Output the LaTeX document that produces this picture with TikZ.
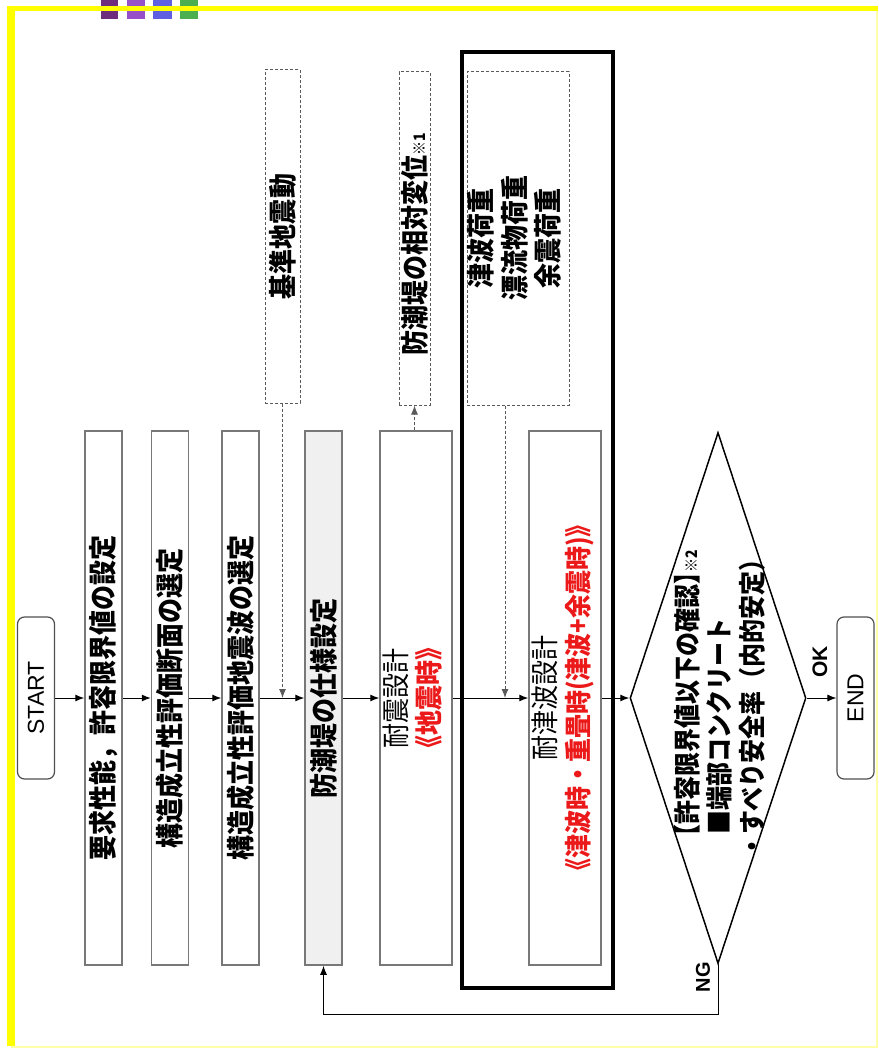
\documentclass[tikz,border=0pt]{standalone}
\usepackage{fontspec}
\usepackage{graphicx}
\setmainfont{Noto Sans CJK JP}
\newfontfamily\lat{Liberation Sans}
\usetikzlibrary{arrows.meta,shapes.geometric}
\definecolor{bordergray}{RGB}{120,120,120}
\definecolor{dashgray}{RGB}{90,90,90}
\definecolor{termgray}{RGB}{80,80,80}
\definecolor{fillgray}{RGB}{240,240,240}
\definecolor{redtxt}{RGB}{235,25,25}
\definecolor{frameyellow}{RGB}{255,255,0}
\definecolor{paleyellow}{RGB}{255,255,170}
\definecolor{sqA}{RGB}{110,45,125}
\definecolor{sqB}{RGB}{150,80,200}
\definecolor{sqC}{RGB}{95,95,225}
\definecolor{sqD}{RGB}{75,175,80}
% rotated CJK text, slightly stretched across the line as in the reference
\newcommand{\rottext}[1]{\rotatebox{90}{\scalebox{1}[1.13]{#1}}}
\newcommand{\rotplain}[1]{\rotatebox{90}{#1}}
\newcommand{\smallnote}[1]{{\fontsize{14}{14}\selectfont #1}}
\tikzset{
  procbox/.style={draw=bordergray, line width=1.5pt, minimum width=37pt, minimum height=534pt, inner sep=0pt, font={\fontsize{25}{27.4}\selectfont\bfseries}},
  dbox/.style={draw=dashgray, line width=1pt, dash pattern=on 3pt off 2pt, minimum height=333pt, inner sep=0pt, font={\fontsize{25}{27.4}\selectfont\bfseries}},
  termbox/.style={draw=termgray, line width=1.2pt, rounded corners=7pt, minimum width=37pt, minimum height=162pt, inner sep=0pt, font={\lat\fontsize{23}{23}\selectfont}},
  grpbox/.style={draw=black, line width=3.5pt, minimum width=151pt, minimum height=936pt, inner sep=0pt},
  decision/.style={draw=black, line width=1.5pt, diamond, minimum width=176pt, minimum height=531pt, inner sep=0pt},
  lbl/.style={inner sep=0pt, font={\lat\fontsize{21}{21}\selectfont\bfseries}},
  ar/.style={-{Latex[length=9pt,width=7pt]}, line width=1pt, black},
  dar/.style={-{Latex[length=9pt,width=7pt]}, line width=1pt, dashgray, dash pattern=on 3pt off 2pt},
}
\begin{document}
\begin{tikzpicture}[x=1pt,y=-1pt]
\useasboundingbox (0,0) rectangle (878,1048);
% colour squares (page header)
\fill[sqA] (101,0) rectangle (118,19);
\fill[sqB] (127,0) rectangle (145,19);
\fill[sqC] (153,0) rectangle (172,19);
\fill[sqD] (180,0) rectangle (198,19);
% yellow frame
\draw[paleyellow, line width=2pt] (11,1046.5) -- (877,1046.5) -- (877,9);
\draw[frameyellow, line width=8pt] (11,6.5) -- (11,1046);
\draw[frameyellow, line width=5pt] (7,9) -- (878,9);
% group box
\node[grpbox] (grp) at (537.5,520) {};
% main flow
\node[termbox] (st) at (36,698) {\rotplain{START}};
\node[procbox] (b1) at (103.5,698) {\rottext{要求性能，許容限界値の設定}};
\node[procbox] (b2) at (170,698) {\rottext{構造成立性評価断面の選定}};
\node[procbox] (b3) at (240.5,698) {\rottext{構造成立性評価地震波の選定}};
\node[procbox, fill=fillgray] (b4) at (323.5,698) {\rottext{防潮堤の仕様設定}};
\node[procbox, minimum width=72pt, font={\fontsize{25}{27.4}\selectfont}] (b5) at (416,698)
  {\rottext{\begin{tabular}{@{}c@{}}耐震設計\\\textcolor{redtxt}{\bfseries 《地震時》}\end{tabular}}};
\node[procbox, minimum width=72pt, font={\fontsize{25}{27.4}\selectfont}] (b6) at (565,698)
  {\rottext{\begin{tabular}{@{}c@{}}耐津波設計\\\textcolor{redtxt}{\fontsize{24}{27.4}\selectfont\bfseries 《津波時・重畳時(津波+余震時)》}\end{tabular}}};
% input boxes
\node[dbox, minimum width=35pt] (d1) at (282.5,236.5) {\rottext{基準地震動}};
\node[dbox, minimum width=31pt] (d2) at (414.5,238.5) {\rottext{防潮堤の相対変位\smallnote{※1}\hspace{12pt}}};
\node[dbox, minimum width=102pt] (d3) at (518,238.5)
  {\rottext{\begin{tabular}{@{}c@{}}津波荷重\\漂流物荷重\\余震荷重\end{tabular}}};
% decision
\node[decision] (dia) at (718,698) {};
\node[inner sep=0pt, font={\fontsize{24}{27.4}\selectfont\bfseries}] (diat) at ([xshift=5pt,yshift=-5pt]dia.center)
  {\rottext{\begin{tabular}{@{}l@{}}\hspace*{0.4em}【許容限界値以下の確認】\kern-0.5em\smallnote{※2}\\\hspace*{1em}■端部コンクリート\\・すべり安全率（内的安定）\end{tabular}}};
\node[termbox] (en) at (855.5,698) {\rotplain{END}};
\node[lbl] (ok) at (820,662) {\rotplain{OK}};
\node[lbl, font={\lat\fontsize{20}{20}\selectfont\bfseries}] (ng) at (703,977) {\rotplain{NG}};
% connectors
\draw[ar] (st.east) -- (b1.west);
\draw[ar] (b1.east) -- (b2.west);
\draw[ar] (b2.east) -- (b3.west);
\draw[ar] (b3.east) -- (b4.west);
\draw[ar] (b4.east) -- (b5.west);
\draw[ar] (b5.east) -- (b6.west);
\draw[ar] (b6.east) -- (dia.west);
\draw[ar] (dia.east) -- (en.west);
\draw[ar] (dia.south) -- ++(0,50) -| (b4.south);
\draw[dar] (d1.south) -- (d1.south |- b4.west);
\draw[dar] (d2.south |- b5.north) -- (d2.south);
\draw[dar] ([xshift=-13pt]d3.south) -- ([xshift=-13pt]d3.south |- b6.west);
\end{tikzpicture}
\end{document}
